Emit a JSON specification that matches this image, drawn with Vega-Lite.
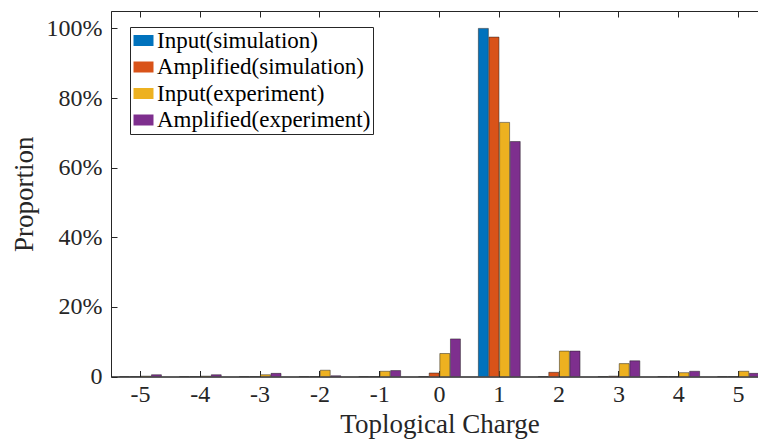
{
  "$schema": "https://vega.github.io/schema/vega-lite/v6.json",
  "width": 649,
  "height": 365.5,
  "autosize": "none",
  "padding": {"left": 111, "top": 11, "right": 0, "bottom": 66.5},
  "background": "white",
  "config": {
    "view": {"stroke": "#262626", "strokeWidth": 1},
    "font": "Liberation Serif",
    "axis": {"domainColor": "#262626", "tickColor": "#262626", "labelColor": "#262626", "titleColor": "#262626", "labelFont": "Liberation Serif", "titleFont": "Liberation Serif", "titleFontWeight": "normal", "grid": false}
  },
  "data": {"values": [
    {"charge": -5, "series": "Input(simulation)", "p": 0},
    {"charge": -5, "series": "Amplified(simulation)", "p": 0},
    {"charge": -5, "series": "Input(experiment)", "p": 0.1},
    {"charge": -5, "series": "Amplified(experiment)", "p": 0.5},
    {"charge": -4, "series": "Input(simulation)", "p": 0},
    {"charge": -4, "series": "Amplified(simulation)", "p": 0},
    {"charge": -4, "series": "Input(experiment)", "p": 0.1},
    {"charge": -4, "series": "Amplified(experiment)", "p": 0.5},
    {"charge": -3, "series": "Input(simulation)", "p": 0},
    {"charge": -3, "series": "Amplified(simulation)", "p": 0},
    {"charge": -3, "series": "Input(experiment)", "p": 0.5},
    {"charge": -3, "series": "Amplified(experiment)", "p": 0.9},
    {"charge": -2, "series": "Input(simulation)", "p": 0},
    {"charge": -2, "series": "Amplified(simulation)", "p": 0},
    {"charge": -2, "series": "Input(experiment)", "p": 1.8},
    {"charge": -2, "series": "Amplified(experiment)", "p": 0.2},
    {"charge": -1, "series": "Input(simulation)", "p": 0},
    {"charge": -1, "series": "Amplified(simulation)", "p": 0},
    {"charge": -1, "series": "Input(experiment)", "p": 1.5},
    {"charge": -1, "series": "Amplified(experiment)", "p": 1.7},
    {"charge": 0, "series": "Input(simulation)", "p": 0},
    {"charge": 0, "series": "Amplified(simulation)", "p": 1.0},
    {"charge": 0, "series": "Input(experiment)", "p": 6.6},
    {"charge": 0, "series": "Amplified(experiment)", "p": 10.8},
    {"charge": 1, "series": "Input(simulation)", "p": 100},
    {"charge": 1, "series": "Amplified(simulation)", "p": 97.5},
    {"charge": 1, "series": "Input(experiment)", "p": 73},
    {"charge": 1, "series": "Amplified(experiment)", "p": 67.5},
    {"charge": 2, "series": "Input(simulation)", "p": 0},
    {"charge": 2, "series": "Amplified(simulation)", "p": 1.2},
    {"charge": 2, "series": "Input(experiment)", "p": 7.3},
    {"charge": 2, "series": "Amplified(experiment)", "p": 7.3},
    {"charge": 3, "series": "Input(simulation)", "p": 0},
    {"charge": 3, "series": "Amplified(simulation)", "p": 0.1},
    {"charge": 3, "series": "Input(experiment)", "p": 3.7},
    {"charge": 3, "series": "Amplified(experiment)", "p": 4.5},
    {"charge": 4, "series": "Input(simulation)", "p": 0},
    {"charge": 4, "series": "Amplified(simulation)", "p": 0},
    {"charge": 4, "series": "Input(experiment)", "p": 1.1},
    {"charge": 4, "series": "Amplified(experiment)", "p": 1.5},
    {"charge": 5, "series": "Input(simulation)", "p": 0},
    {"charge": 5, "series": "Amplified(simulation)", "p": 0},
    {"charge": 5, "series": "Input(experiment)", "p": 1.5},
    {"charge": 5, "series": "Amplified(experiment)", "p": 0.9}
  ]},
  "resolve": {"axis": {"x": "independent"}},
  "layer": [
    {
      "mark": {"type": "bar", "clip": true, "stroke": "#222222", "strokeWidth": 0.5},
      "encoding": {
        "x": {
          "field": "charge", "type": "ordinal",
          "scale": {"domain": [-5, -4, -3, -2, -1, 0, 1, 2, 3, 4, 5], "range": [-0.4, 657.4], "paddingInner": 0.3, "paddingOuter": 0.15},
          "axis": {"orient": "bottom", "labelAngle": 0, "labelFontSize": 24, "labelPadding": 12, "tickSize": -6, "title": "Toplogical Charge", "titleFontSize": 27, "titlePadding": 5}
        },
        "xOffset": {
          "field": "series", "type": "nominal",
          "scale": {"domain": ["Input(simulation)", "Amplified(simulation)", "Input(experiment)", "Amplified(experiment)"], "paddingInner": 0.06}
        },
        "y": {
          "field": "p", "type": "quantitative",
          "scale": {"domain": [0, 105], "nice": false},
          "axis": {"values": [0, 20, 40, 60, 80, 100], "labelExpr": "datum.value == 0 ? '0' : datum.value + '%'", "labelFontSize": 24, "labelPadding": 15, "tickSize": -6, "title": "Proportion", "titleFontSize": 27, "titlePadding": 8}
        },
        "color": {
          "field": "series", "type": "nominal",
          "scale": {"domain": ["Input(simulation)", "Amplified(simulation)", "Input(experiment)", "Amplified(experiment)"], "range": ["#0072BD", "#D95319", "#EDB120", "#7E2F8E"]},
          "legend": {
            "title": null, "orient": "none", "legendX": 19, "legendY": 16,
            "padding": 2, "strokeColor": "#262626", "fillColor": "white",
            "symbolType": "M-1,-0.55H1V0.55H-1Z", "symbolSize": 400, "symbolStrokeWidth": 0, "symbolOpacity": 1,
            "labelFont": "Liberation Serif", "labelFontSize": 23, "labelColor": "black", "labelOffset": 2, "rowPadding": 2.5, "labelLimit": 400
          }
        }
      }
    },
    {
      "mark": {"type": "point", "opacity": 0},
      "encoding": {
        "x": {
          "field": "charge", "type": "ordinal",
          "axis": {"orient": "top", "labels": false, "tickSize": -6, "title": null, "domain": false}
        }
      }
    }
  ]
}
